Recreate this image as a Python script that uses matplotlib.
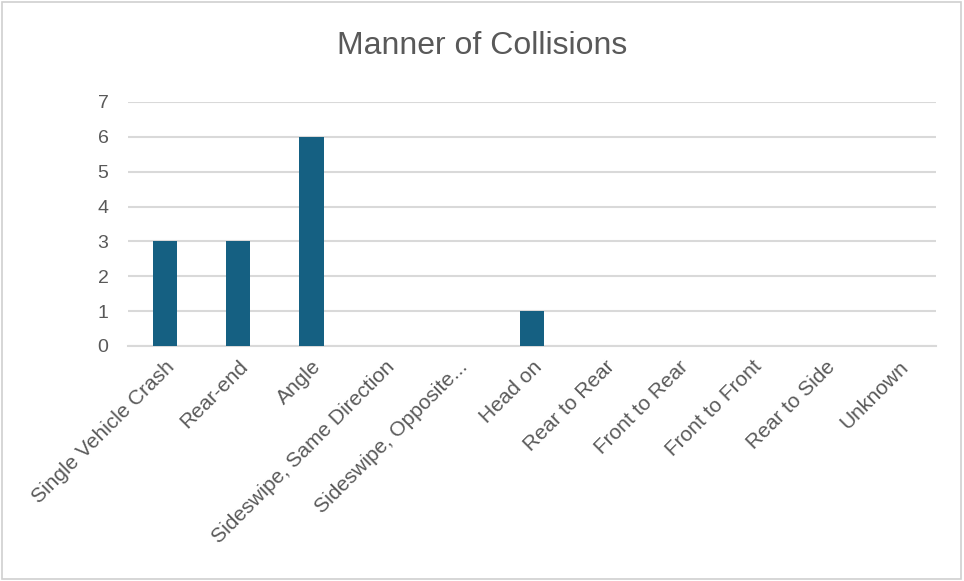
import matplotlib.pyplot as plt
from matplotlib.patches import Rectangle

categories = ["Single Vehicle Crash", "Rear-end", "Angle", "Sideswipe, Same Direction",
              "Sideswipe, Opposite...", "Head on", "Rear to Rear", "Front to Rear",
              "Front to Front", "Rear to Side", "Unknown"]
counts = [3, 3, 6, 0, 0, 1, 0, 0, 0, 0, 0]
y_ticks = [0, 1, 2, 3, 4, 5, 6, 7]

bar_color = "#156082"
text_color = "#595959"
grid_color = "#D9D9D9"

plt.rcParams['font.family'] = ['Liberation Sans', 'DejaVu Sans']

fig = plt.figure(figsize=(9.64, 5.81), dpi=100)
fig.patches.append(Rectangle((0.002, 0.004), 0.995, 0.992, transform=fig.transFigure,
                             fill=False, edgecolor="#D0D0D0", linewidth=1.2))

ax = fig.add_axes([0.1328, 0.4045, 0.838, 0.42])
x = range(len(categories))
ax.bar(x, counts, width=0.33, color=bar_color, zorder=3)

ax.set_xlim(-0.5, len(categories) - 0.5)
ax.set_ylim(0, 7)
ax.set_yticks(y_ticks)
ax.yaxis.grid(True, color=grid_color, linewidth=1.5, zorder=0)
ax.set_axisbelow(True)
for side in ["top", "right", "left"]:
    ax.spines[side].set_visible(False)
ax.spines["bottom"].set_color(grid_color)
ax.spines["bottom"].set_linewidth(1.5)
ax.tick_params(axis="y", length=0, colors=text_color, labelsize=14, pad=14)
ax.tick_params(axis="x", length=0, colors=text_color, labelsize=15, pad=8)
ax.set_xticks(list(x))
ax.set_xticklabels(categories, rotation=45, ha="right", rotation_mode="anchor")

fig.text(0.5, 0.92, "Manner of Collisions", ha="center", va="center",
         fontsize=23, color=text_color)

fig.savefig("out.png", dpi=100)
